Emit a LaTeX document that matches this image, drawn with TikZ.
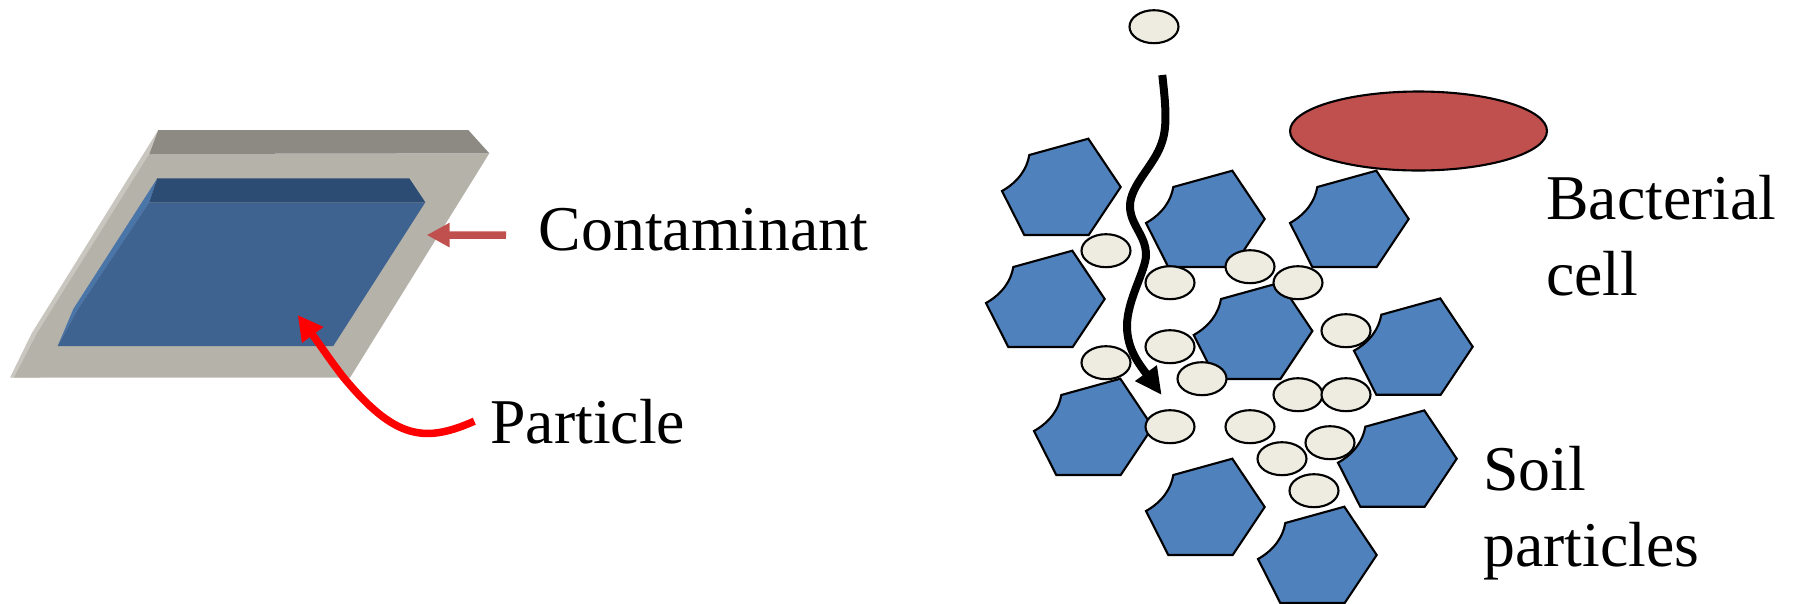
\documentclass[tikz,border=0pt]{standalone}
\usepackage{fontspec}
\setmainfont{Liberation Serif}
\usetikzlibrary{arrows.meta,shapes.geometric}
\definecolor{grain}{HTML}{4F81BD}
\definecolor{speck}{HTML}{EEECE1}
\definecolor{cell}{HTML}{C0504D}
\tikzset{
  label/.style={inner sep=0pt,anchor=base west,align=left,font=\fontsize{36.3}{43.2}\selectfont},
  speckle/.style={draw=black,line width=1.2pt,fill=speck,ellipse,inner sep=0pt,minimum width=.98cm,minimum height=.66cm},
  soil/.pic={
    \draw[line width=1.2pt,fill=grain,line join=miter] (0,0) .. controls (16,-9) and (25,-22) .. (27.3,-36)
      -- (86.3,-52.3) -- (118.7,-4) -- (86.7,44) -- (22.3,44) -- cycle;
  }
}
\begin{document}
\begin{tikzpicture}[x=0.02cm,y=-0.02cm]
  \useasboundingbox (0,0) rectangle (1793,603);
  % plate
  \fill[color={rgb,255:red,200;green,198;blue,190}] (158.3,130) -- (31.7,333.3) -- (10,377.7) -- (40,377.7) -- (149.3,154) -- cycle;
  \fill[color={rgb,255:red,181;green,178;blue,170}] (149.3,154) -- (489.3,153.3) -- (350,377.7) -- (14,377.7) -- (37,333.3) -- cycle;
  \fill[color={rgb,255:red,140;green,138;blue,131}] (158.3,130) -- (468.3,130) -- (489.3,153.3) -- (149.3,154) -- cycle;
  % well
  \fill[color={rgb,255:red,74;green,117;blue,168}] (157.3,178.3) -- (149.3,202.3) -- (78,309) -- (57.7,346) -- (73.3,309) -- cycle;
  \fill[color={rgb,255:red,63;green,99;blue,145}] (149.3,202.3) -- (425.3,202.3) -- (333.3,346) -- (57.7,346) -- (78,309) -- cycle;
  \fill[color={rgb,255:red,45;green,76;blue,115}] (157.3,178.3) -- (409.3,178.3) -- (425.3,202.3) -- (149.3,202.3) -- cycle;
  % labels
  \node[label] (contaminant) at (538.5,250) {Contaminant};
  \node[label] (particle) at (490,443) {Particle};
  \node[label] (bacterial) at (1546,295) {Bacterial\\cell};
  \node[label] (soil) at (1483,566) {Soil\\particles};
  % arrows
  \coordinate (edge) at (426.7,235);
  \coordinate (well) at (297.7,315);
  \path (contaminant.west) ++(-32.5,6) coordinate (ctail);
  \path (particle.west) ++(-15.7,0) coordinate (ptail);
  \draw[-{Triangle[length=.46cm,width=.46cm]},line width=.15cm,color=cell] (ctail) -- (edge);
  \draw[-{Triangle[length=.5cm,width=.5cm]},line width=.15cm,color=red] (ptail)
    .. controls (425,443) and (395,440) .. (343,376.7) .. controls (330,360) and (318,342) .. (well);
  % grains
  \pic at (1002,191) {soil};
  \pic at (1146,223) {soil};
  \pic at (1290,223) {soil};
  \pic at (986,303) {soil};
  \pic at (1193.7,335) {soil};
  \pic at (1354,350.7) {soil};
  \pic at (1034,431) {soil};
  \pic at (1338,462.7) {soil};
  \pic at (1146,511) {soil};
  \pic at (1258,559) {soil};
  % specks
  \node[speckle] (s1) at (1154,26.7) {};
  \node[speckle] (s2) at (1106,250.7) {};
  \node[speckle] (s3) at (1170,282.7) {};
  \node[speckle] (s4) at (1250,266.7) {};
  \node[speckle] (s5) at (1298,282.7) {};
  \node[speckle] (s6) at (1346,330.7) {};
  \node[speckle] (s7) at (1170,346.7) {};
  \node[speckle] (s8) at (1106,362.7) {};
  \node[speckle] (s9) at (1202,378.7) {};
  \node[speckle] (s10) at (1298,394.7) {};
  \node[speckle] (s11) at (1346,394.7) {};
  \node[speckle] (s12) at (1170,426.7) {};
  \node[speckle] (s13) at (1250,426.7) {};
  \node[speckle] (s14) at (1330,442.7) {};
  \node[speckle] (s15) at (1282,458.7) {};
  \node[speckle] (s16) at (1314,490.7) {};
  % bacterium
  \node[draw=black,line width=1.2pt,fill=cell,ellipse,inner sep=0pt,minimum width=5.14cm,minimum height=1.58cm] (bact) at (1418.5,131) {};
  % path through the pores
  \coordinate (start) at (1162.3,75);
  \coordinate (finish) at (1161.7,395);
  \draw[-{Triangle[length=.54cm,width=.5cm]},line width=.16cm,color=black] (start)
    .. controls (1165,100) and (1168,125) .. (1162,142)
    .. controls (1155,165) and (1130,185) .. (1130,206)
    .. controls (1130,225) and (1146,235) .. (1146,255)
    .. controls (1146,270) and (1127,300) .. (1127,326)
    .. controls (1127,350) and (1140,365) .. (finish);
\end{tikzpicture}
\end{document}
